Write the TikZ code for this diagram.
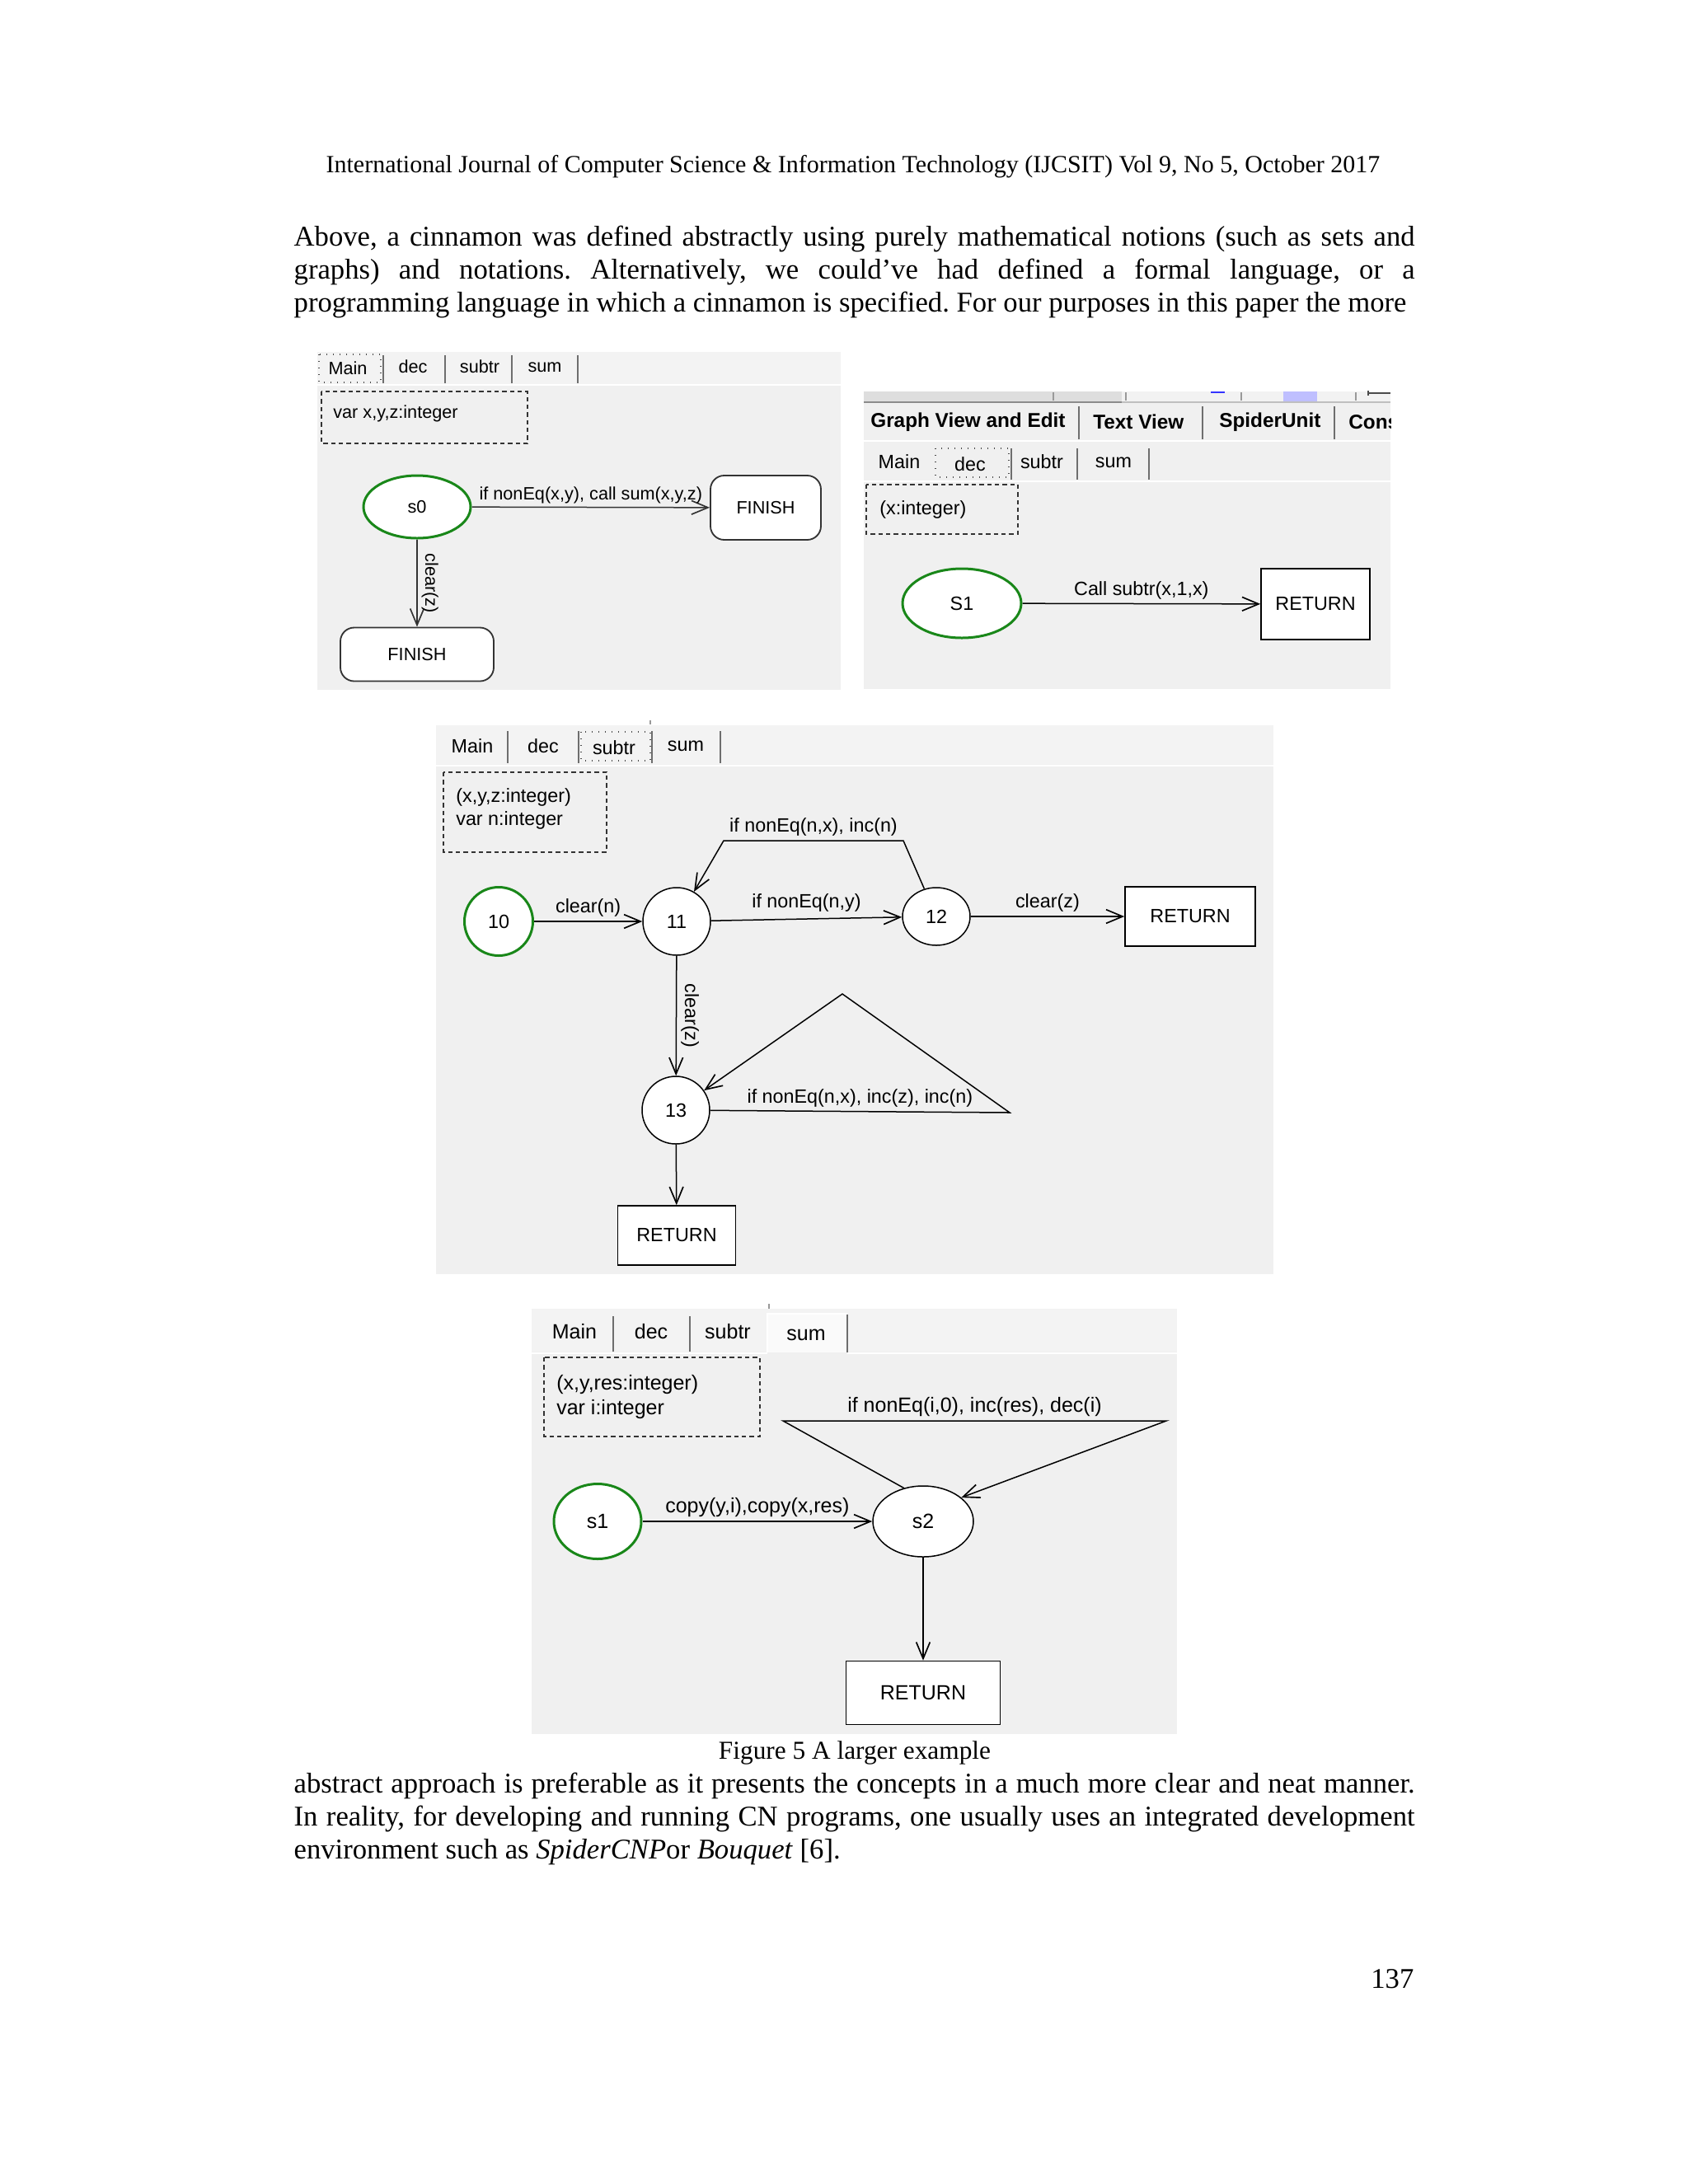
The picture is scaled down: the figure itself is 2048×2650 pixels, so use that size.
\documentclass[tikz,border=0pt]{standalone}
\usepackage{fontspec}
\setmainfont{Liberation Serif}
\newfontfamily\uifont{Liberation Sans}
\usetikzlibrary{arrows.meta,shapes.geometric}
\definecolor{panelbg}{RGB}{240,240,240}
\definecolor{tabbg}{RGB}{243,243,243}
\definecolor{sgreen}{RGB}{25,135,25}
\definecolor{sepgray}{RGB}{110,110,110}
\frenchspacing
\begin{document}
\begin{tikzpicture}[x=0.3pt,y=-0.3pt,
  bodyf/.style={font=\fontsize{10.4}{12}\selectfont, inner sep=0pt},
  uiA/.style={font=\uifont\fontsize{6.5}{7.5}\selectfont, inner sep=0.8pt},
  uiB/.style={font=\uifont\fontsize{7}{8.2}\selectfont, inner sep=0.8pt},
  uiC/.style={font=\uifont\fontsize{7.5}{8.8}\selectfont, inner sep=0.8pt},
  conn/.style={draw=black, line width=0.45pt, -{Straight Barb[length=6pt,width=5pt,line width=0.5pt]}},
  initst/.style={ellipse, draw=sgreen, line width=0.9pt, fill=white, inner sep=0pt},
  plainst/.style={ellipse, draw=black, line width=0.45pt, fill=white, inner sep=0pt},
  retbox/.style={rectangle, draw=black, line width=0.5pt, fill=white, inner sep=0pt},
  finbox/.style={rectangle, rounded corners=5pt, draw=black!80, line width=0.55pt, fill=white, inner sep=0pt},
  declbox/.style={draw=black!80, line width=0.5pt, dash pattern=on 1.6pt off 1.2pt},
  focusbox/.style={draw=black!70, line width=0.4pt, dotted},
  tabsep/.style={draw=sepgray, line width=0.6pt}
]
\useasboundingbox (0,0) rectangle (2048,2650);
\fill[white] (0,0) rectangle (2048,2650);

% ---------------- page text ----------------
\node[anchor=base, inner sep=0pt, font=\fontsize{9}{11}\selectfont] (hdr) at (1035,209)
  {International Journal of Computer Science \& Information Technology (IJCSIT) Vol 9, No 5, October 2017};
\node[bodyf, anchor=base west] (pa1) at (356,298)
  {\makebox[408pt][s]{Above, a cinnamon was defined abstractly using purely mathematical notions (such as sets and}};
\node[bodyf, anchor=base west] (pa2) at (356,338)
  {\makebox[408pt][s]{graphs) and notations. Alternatively, we could’ve had defined a formal language, or a}};
\node[bodyf, anchor=base west] (pa3) at (356,378)
  {programming language in which a cinnamon is specified. For our purposes in this paper the more};

\node[anchor=base, inner sep=0pt, font=\fontsize{9.4}{11}\selectfont] (cap) at (1037,2134) {Figure 5 A larger example};
\node[bodyf, anchor=base west] (pb1) at (356,2175)
  {\makebox[408pt][s]{abstract approach is preferable as it presents the concepts in a much more clear and neat manner.}};
\node[bodyf, anchor=base west] (pb2) at (356,2215)
  {\makebox[408pt][s]{In reality, for developing and running CN programs, one usually uses an integrated development}};
\node[bodyf, anchor=base west] (pb3) at (356,2255)
  {environment such as \textit{SpiderCNP}or \textit{Bouquet} [6].};
\node[bodyf, anchor=base east] (pgno) at (1716,2412) {137};

% ---------------- panel 1 : Main ----------------
\fill[panelbg] (385,427) rectangle (1020,837);
\fill[tabbg] (385,427) rectangle (1020,466);
\draw[white, line width=0.8pt] (385,467) -- (1020,467);
\draw[focusbox] (387,430) rectangle (462,464);
\foreach \sx in {465,540,621,701} {
  \draw[tabsep] (\sx,431) -- (\sx,465);
}
\node[uiA] (t1main) at (422,447) {Main};
\node[uiA] (t1dec) at (501,445) {dec};
\node[uiA] (t1sub) at (582,445) {subtr};
\node[uiA] (t1sum) at (661,446) {sum};
\draw[declbox] (390,475) rectangle (640,538);
\node[uiA, anchor=west] (d1) at (401,502) {var x,y,z:integer};

\node[initst, minimum width=39pt, minimum height=22.8pt, font=\uifont\fontsize{6.5}{7.5}\selectfont] (s0) at (506,615) {s0};
\node[finbox, minimum width=40.2pt, minimum height=23.4pt, font=\uifont\fontsize{6.5}{7.5}\selectfont] (fin1) at (929,616) {FINISH};
\node[finbox, minimum width=55.8pt, minimum height=19.5pt, font=\uifont\fontsize{6.5}{7.5}\selectfont] (fin2) at (506,794) {FINISH};
\draw[conn, draw=black!80] (s0) -- node[uiA, above, inner sep=1.2pt] {if nonEq(x,y), call sum(x,y,z)} (fin1);
\draw[conn, draw=black!80] (s0) -- node[uiA, midway, rotate=-90, anchor=south, inner sep=1.5pt] {clear(z)} (fin2);

% ---------------- panel 2 : dec ----------------
\begin{scope}
\clip (1048,470) rectangle (1687,837);
\fill[panelbg] (1048,475) rectangle (1687,836);
\fill[black!13] (1048,475) rectangle (1361,487);
\fill[black!5] (1361,475) rectangle (1687,487);
\draw[black!45, line width=0.8pt] (1048,488) -- (1361,488);
\draw[black!25, line width=0.5pt] (1361,488) -- (1687,488);
\foreach \tx in {1278,1366,1506,1645} { \draw[black!40, line width=0.4pt] (\tx,476) -- (\tx,486); }
\draw[blue!80, line width=0.6pt] (1469,476) -- (1486,476);
\fill[blue!25] (1557,475) rectangle (1598,487);
\draw[black!70, line width=0.5pt] (1660,477) -- (1687,477);
\draw[black!70, line width=0.5pt] (1660,474) -- (1660,480);
\foreach \sx in {1309,1459,1619} { \draw[tabsep] (\sx,493) -- (\sx,533); }
\draw[white, line width=0.8pt] (1048,535) -- (1687,535);
\node[uiB, anchor=west, font=\uifont\bfseries\fontsize{7.3}{8.5}\selectfont] (g1) at (1053,512) {Graph View and Edit};
\node[uiB, anchor=west, font=\uifont\bfseries\fontsize{7.3}{8.5}\selectfont] (g2) at (1323,512) {Text View};
\node[uiB, anchor=west, font=\uifont\bfseries\fontsize{7.3}{8.5}\selectfont] (g3) at (1476,512) {SpiderUnit};
\node[uiB, anchor=west, font=\uifont\bfseries\fontsize{7.3}{8.5}\selectfont] (g4) at (1633,512) {Cons};
\end{scope}
\draw[focusbox] (1135,544) rectangle (1224,579);
\foreach \sx in {1227,1307,1394} { \draw[tabsep] (\sx,544) -- (\sx,582); }
\draw[white, line width=0.8pt] (1048,584) -- (1687,584);
\node[uiB] (t2main) at (1091,560) {Main};
\node[uiB] (t2dec) at (1177,563) {dec};
\node[uiB] (t2sub) at (1264,560) {subtr};
\node[uiB] (t2sum) at (1351,561) {sum};
\draw[declbox] (1051,588) rectangle (1235,648);
\node[uiB, anchor=west] (d2) at (1064,618) {(x:integer)};

\node[initst, minimum width=43.2pt, minimum height=25.2pt, font=\uifont\fontsize{7}{8.2}\selectfont] (S1) at (1167,732) {S1};
\node[retbox, minimum width=39.6pt, minimum height=25.8pt, font=\uifont\fontsize{7}{8.2}\selectfont] (ret1) at (1596,733) {RETURN};
\draw[conn] (S1) -- node[uiB, above, inner sep=1.3pt] {Call subtr(x,1,x)} (ret1);

% ---------------- panel 3 : subtr ----------------
\fill[panelbg] (529,880) rectangle (1545,1546);
\fill[tabbg] (529,880) rectangle (1545,927);
\draw[white, line width=0.8pt] (529,929) -- (1545,929);
\draw[black!40, line width=0.5pt] (789,874) -- (789,879);
\draw[focusbox] (705,888) rectangle (789,923);
\foreach \sx in {616,702,791,874} { \draw[tabsep] (\sx,887) -- (\sx,926); }
\node[uiB] (t3main) at (573,905) {Main};
\node[uiB] (t3dec) at (659,905) {dec};
\node[uiB] (t3sub) at (745,907) {subtr};
\node[uiB] (t3sum) at (832,905) {sum};
\draw[declbox] (538,937) rectangle (736,1034);
\node[uiB, anchor=west] (d3a) at (550,967) {(x,y,z:integer)};
\node[uiB, anchor=west] (d3b) at (550,995) {var n:integer};

\node[initst, circle, minimum size=24.9pt, font=\uifont\fontsize{7}{8.2}\selectfont] (n10) at (605,1118) {10};
\node[plainst, circle, minimum size=24.6pt, font=\uifont\fontsize{7}{8.2}\selectfont] (n11) at (821,1118) {11};
\node[plainst, minimum width=24.6pt, minimum height=21pt, font=\uifont\fontsize{7}{8.2}\selectfont] (n12) at (1136,1112) {12};
\node[retbox, minimum width=47.4pt, minimum height=21.6pt, font=\uifont\fontsize{7}{8.2}\selectfont] (ret2) at (1444,1112) {RETURN};
\node[plainst, circle, minimum size=24.6pt, font=\uifont\fontsize{7}{8.2}\selectfont] (n13) at (820,1347) {13};
\node[retbox, minimum width=42.9pt, minimum height=21.6pt, font=\uifont\fontsize{7}{8.2}\selectfont] (ret3) at (821,1499) {RETURN};
\coordinate (c1) at (1096,1020);
\coordinate (c2) at (878,1020);
\coordinate (k1) at (1225,1350);
\coordinate (k2) at (1022,1206);

\draw[conn] (n10) -- node[uiB, above, inner sep=1.5pt] {clear(n)} (n11);
\draw[conn] (n11) -- node[uiB, above, inner sep=2.5pt] {if nonEq(n,y)} (n12);
\draw[conn] (n12) -- node[uiB, above, inner sep=1.5pt] {clear(z)} (ret2);
\draw[conn] (n12) -- (c1) -- node[uiB, above, inner sep=1.5pt] {if nonEq(n,x), inc(n)} (c2) -- (n11);
\draw[conn] (n11) -- node[uiB, midway, rotate=-90, anchor=south, inner sep=1.5pt] {clear(z)} (n13);
\draw[conn] (n13) -- node[uiB, above, inner sep=1.5pt] {if nonEq(n,x), inc(z), inc(n)} (k1) -- (k2) -- (n13);
\draw[conn] (n13) -- (ret3);

% ---------------- panel 4 : sum ----------------
\fill[panelbg] (645,1588) rectangle (1428,2104);
\fill[tabbg] (645,1588) rectangle (1428,1640);
\fill[black!2] (931,1594) rectangle (1028,1641);
\draw[white, line width=0.8pt] (931,1641) -- (931,1594) -- (1028,1594);
\draw[white, line width=0.8pt] (645,1642) -- (931,1642);
\draw[white, line width=0.8pt] (1028,1642) -- (1428,1642);
\draw[black!40, line width=0.5pt] (933,1582) -- (933,1588);
\foreach \sx in {744,837} { \draw[tabsep] (\sx,1597) -- (\sx,1640); }
\draw[tabsep] (1028,1595) -- (1028,1641);
\node[uiC] (t4main) at (697,1616) {Main};
\node[uiC] (t4dec) at (790,1616) {dec};
\node[uiC] (t4sub) at (883,1616) {subtr};
\node[uiC] (t4sum) at (978,1620) {sum};
\draw[declbox] (660,1647) rectangle (922,1743);
\node[uiC, anchor=west] (d4a) at (672,1680) {(x,y,res:integer)};
\node[uiC, anchor=west] (d4b) at (672,1710) {var i:integer};

\node[initst, minimum width=31.8pt, minimum height=27.3pt, font=\uifont\fontsize{7.5}{8.8}\selectfont] (s1) at (725,1846) {s1};
\node[plainst, minimum width=36.6pt, minimum height=25.8pt, font=\uifont\fontsize{7.5}{8.8}\selectfont] (s2) at (1120,1846) {s2};
\node[retbox, minimum width=56.1pt, minimum height=23.1pt, font=\uifont\fontsize{7.5}{8.8}\selectfont] (ret4) at (1120,2054) {RETURN};
\coordinate (e1) at (950,1724);
\coordinate (e2) at (1415,1724);

\draw[conn] (s1) -- node[uiC, above, inner sep=1.3pt] {copy(y,i),copy(x,res)} (s2);
\draw[conn] (s2.120) -- (e1) -- node[uiC, above, inner sep=1.5pt] {if nonEq(i,0), inc(res), dec(i)} (e2) -- (s2.32);
\draw[conn] (s2) -- (ret4);
\end{tikzpicture}
\end{document}
